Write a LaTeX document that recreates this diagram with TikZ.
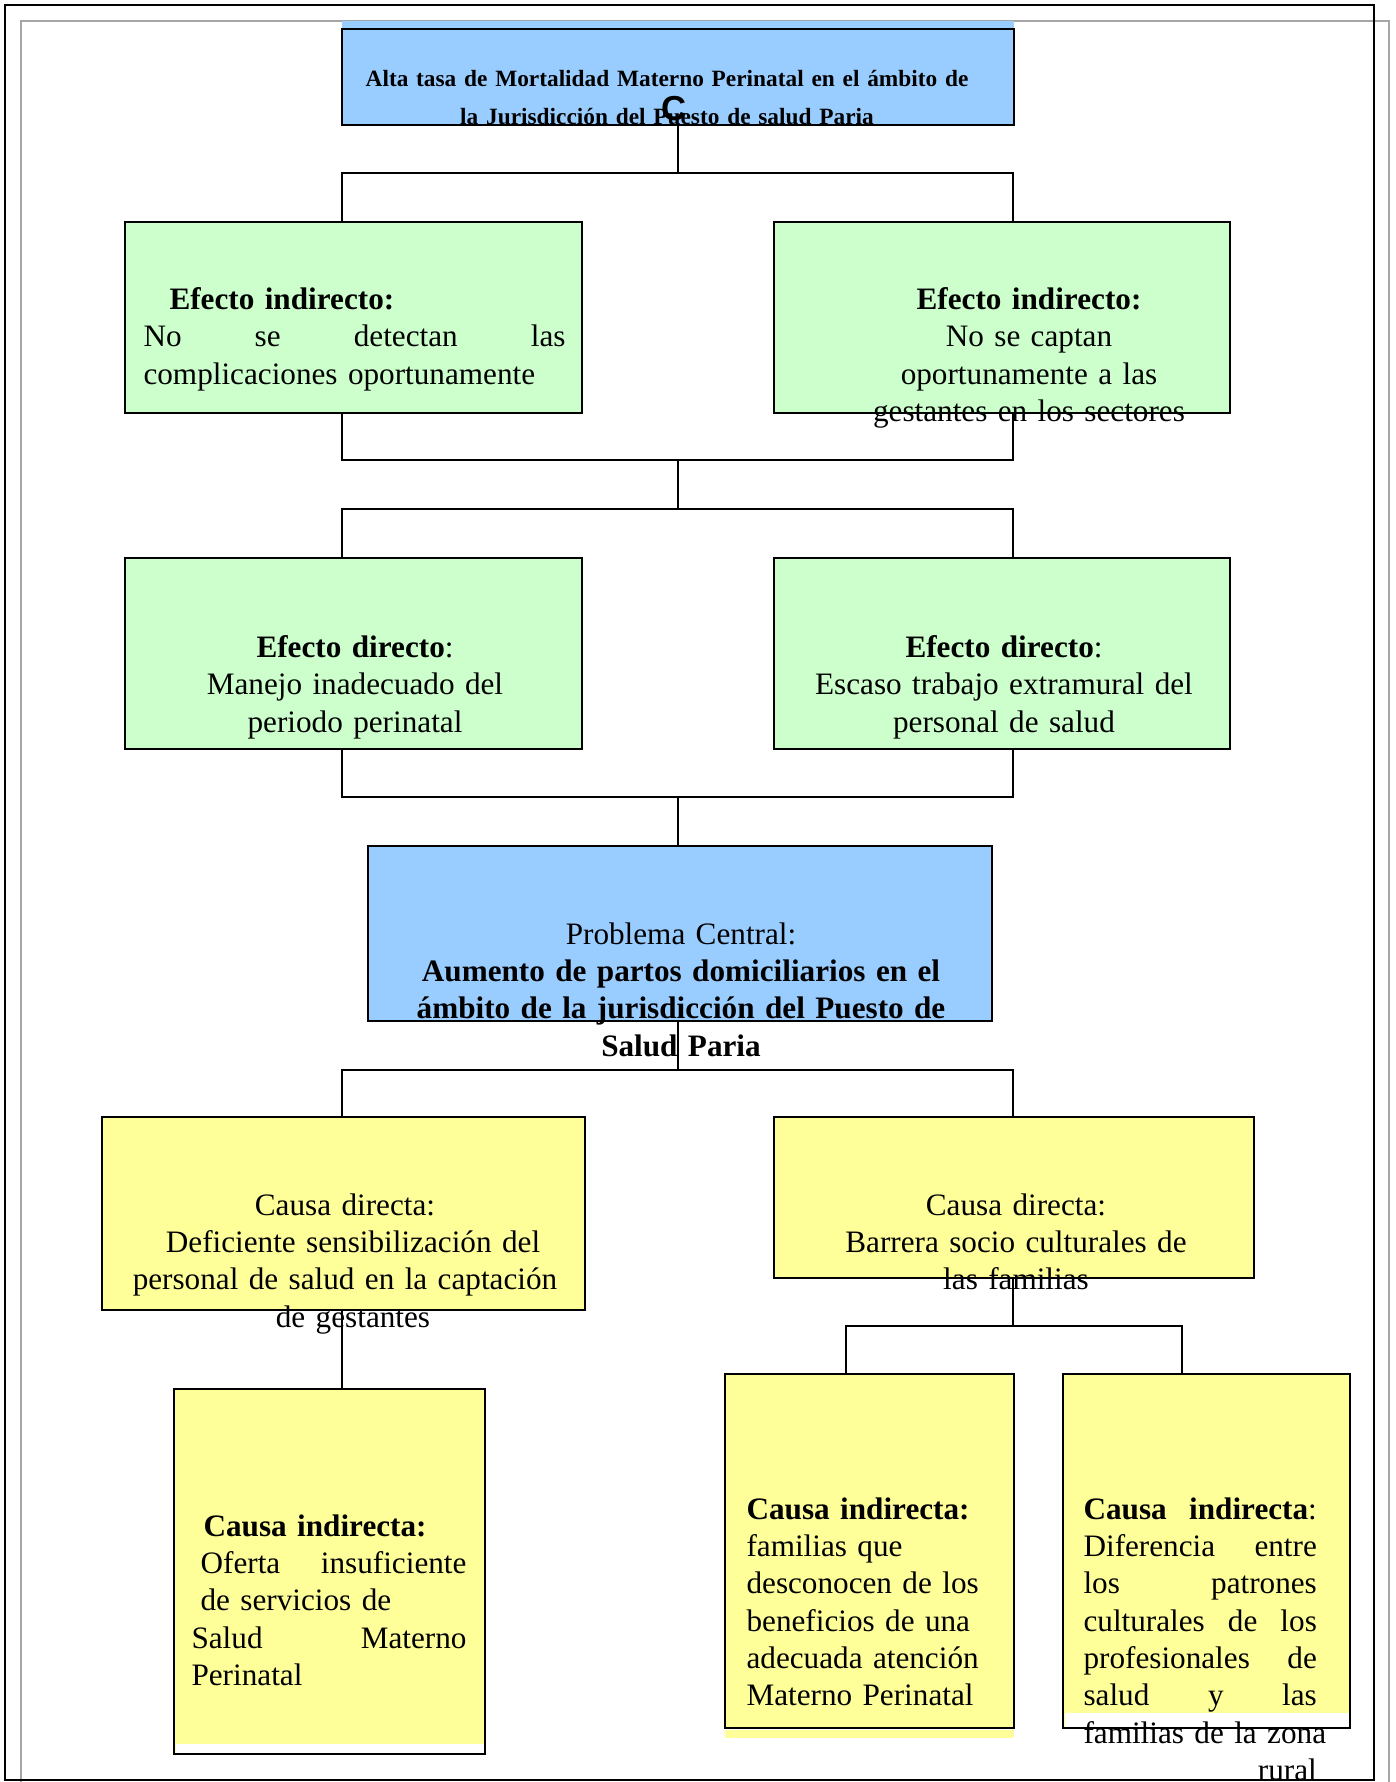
\documentclass[tikz,border=0pt]{standalone}
\usepackage[svgnames]{xcolor}
\usepackage{fontspec}
\setmainfont{Liberation Serif}
\newfontfamily\arialfont{Liberation Sans}
\usepackage{tikz}

\definecolor{pblue}{HTML}{99CCFF}
\definecolor{egreen}{HTML}{CCFFCC}
\definecolor{cyellow}{HTML}{FFFF99}

\tikzset{
  box/.style={draw=black, line width=0.75pt, inner sep=0pt},
  problema/.style={box, fill=pblue},
  efecto/.style={box, fill=egreen},
  causa/.style={box, fill=cyellow},
  sz/.style 2 args={minimum width=#1, minimum height=#2},
  txt/.style={inner sep=0pt, font=\fontsize{11.7}{14}\selectfont},
  link/.style={line width=0.6pt},
}

\begin{document}
\begin{tikzpicture}[x=0.375pt, y=-0.375pt]
\useasboundingbox (0,0) rectangle (1396,1782);

\draw[
  gray!70,
  line width=0.75pt] (21,1782) -- (21,21) -- (1389,21) -- (1389,1782);
\draw[
  black,
  line width=0.75pt] (5,5) rectangle (1374,1780);

\fill[pblue] (342,21) rectangle (1014,29);
\node[problema, sz={252pt}{36pt}] (efinal) at (678,77) {};

\node[efecto, sz={171.375pt}{71.625pt}] (efiL) at (353.5,317.5) {};
\node[efecto, sz={171pt}{71.625pt}] (efiR) at (1002,317.5) {};
\node[efecto, sz={171.375pt}{71.625pt}] (edL) at (353.5,653.5) {};
\node[efecto, sz={171pt}{71.625pt}] (edR) at (1002,653.5) {};

\node[problema, sz={234pt}{65.625pt}] (central) at (680,933.5) {};

\node[causa, sz={181.125pt}{72.375pt}] (cdL) at (343.5,1213.5) {};
\node[causa, sz={180pt}{60.375pt}] (cdR) at (1014,1197.5) {};

\node[causa, sz={116.625pt}{136.875pt}] (ciL) at (329.5,1571.5) {};
\node[causa, sz={108.375pt}{132.75pt}] (ciM) at (869.5,1551) {};
\node[causa, sz={107.625pt}{132.75pt}] (ciR) at (1206.5,1551) {};
\fill[white] (175.5,1744) rectangle (483.5,1752.5);
\fill[cyellow] (725,1729.5) rectangle (1014,1738);
\fill[white] (1064.5,1713) rectangle (1348.5,1726.5);

\node[txt, anchor=north, text width=240pt, align=center,
  font=\fontsize{8.75}{14}\selectfont\bfseries] (efinalt) at (667,70)
  {Alta tasa de Mortalidad Materno Perinatal en el ámbito de\\
   la Jurisdicción del Puesto de salud Paria};

\node[txt, anchor=north west, text width=158.25pt, align=left] (efiLt) at (143,287)
  {\hspace*{9.75pt}\textbf{Efecto indirecto:}\\
   No\hfill se\hfill detectan\hfill las\\
   complicaciones oportunamente};
\node[txt, anchor=north, text width=130pt, align=center] (efiRt) at (1029,287)
  {\textbf{Efecto indirecto:}\hspace*{30pt}\\
   No se captan\\
   oportunamente a las\\
   gestantes en los sectores};

\node[txt, anchor=north, text width=170pt, align=center] (edLt) at (355,635)
  {\textbf{Efecto directo}:\\
   Manejo inadecuado del\\
   periodo perinatal};
\node[txt, anchor=north, text width=170pt, align=center] (edRt) at (1004,635)
  {\textbf{Efecto directo}:\\
   Escaso trabajo extramural del\\
   personal de salud};

\node[txt, anchor=north, text width=210pt, align=center] (centralt) at (681,922)
  {Problema Central:\\
   {\bfseries Aumento de partos domiciliarios en el\\
   ámbito de la jurisdicción del Puesto de\\
   Salud Paria}};

\node[txt, anchor=north, text width=200pt, align=center] (cdLt) at (345,1193)
  {Causa directa:\\
   \hspace*{6pt}Deficiente sensibilización del\\
   personal de salud en la captación\\
   \hspace*{6pt}de gestantes};
\node[txt, anchor=north, text width=200pt, align=center] (cdRt) at (1016,1193)
  {Causa directa:\\
   Barrera socio culturales de\\
   las familias};

\node[txt, anchor=north west, text width=103.1pt, align=left] (ciLt) at (191,1514)
  {\hspace*{4.5pt}\textbf{Causa indirecta:}\\
   \hspace*{3.4pt}Oferta\hfill insuficiente\hspace*{6pt}\\
   \hspace*{3.4pt}de servicios de\\
   Salud\hfill Materno\\
   Perinatal};
\node[txt, anchor=north west, text width=95pt, align=left] (ciMt) at (746,1497)
  {\textbf{Causa indirecta:}\\
   familias que\\
   desconocen de los\\
   beneficios de una\\
   adecuada atención\\
   Materno Perinatal};
\node[txt, anchor=north west, text width=87.5pt, align=left] (ciRt) at (1083,1497)
  {\textbf{Causa\hfill indirecta}:\\
   Diferencia\hfill entre\\
   los\hfill patrones\\
   culturales\hfill de\hfill los\\
   profesionales\hfill de\\
   salud\hfill y\hfill las\\
   \makebox[87.5pt][s]{familias de la zona}\\
   \hfill rural};

\coordinate (cl) at (342,0);
\coordinate (cr) at (1013,0);
\coordinate (j1) at (678,173);
\coordinate (j2) at (678,460);
\coordinate (j3) at (678,509);
\coordinate (j4) at (678,797);
\coordinate (j5) at (678,1070);
\coordinate (j6) at (1013,1326);
\coordinate (mx) at (846,0);
\coordinate (rx) at (1182,0);

\draw[link] (efinal.south) -- (j1);
\draw[link] (efiL.north -| cl) |- (j1) -| (efiR.north -| cr);
\draw[link] (efiL.south -| cl) |- (j2) -| (efiR.south -| cr);
\draw[link] (j2) -- (j3);
\draw[link] (edL.north -| cl) |- (j3) -| (edR.north -| cr);
\draw[link] (edL.south -| cl) |- (j4) -| (edR.south -| cr);
\draw[link] (j4) -- (central.north -| j4);
\draw[link] (central.south -| j5) -- (j5);
\draw[link] (cdL.north -| cl) |- (j5) -| (cdR.north -| cr);
\draw[link] (cdL.south -| cl) -- (ciL.north -| cl);
\draw[link] (cdR.south -| j6) -- (j6);
\draw[link] (ciM.north -| mx) |- (j6) -| (ciR.north -| rx);

\node[inner sep=0pt, font=\arialfont\bfseries\fontsize{13}{13}\selectfont] (cmark) at (674,109) {C};
\end{tikzpicture}
\end{document}
